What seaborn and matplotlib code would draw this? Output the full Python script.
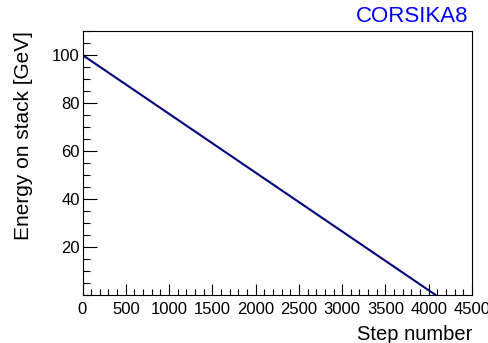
import matplotlib
matplotlib.use("Agg")
import matplotlib.pyplot as plt
import seaborn as sns
import pandas as pd
from matplotlib.ticker import MultipleLocator, FixedLocator

steps = [0, 4080]
energy = [100.0, 0.0]
title = "CORSIKA8"
xlabel = "Step number"
ylabel = "Energy on stack [GeV]"

sns.set_theme(style="ticks")
plt.rcParams['font.family'] = ['Liberation Sans', 'DejaVu Sans']
plt.rcParams['text.color'] = 'black'
plt.rcParams['axes.labelcolor'] = 'black'

df = pd.DataFrame({"step": steps, "energy": energy})

fig = plt.figure(figsize=(4.88, 3.43), dpi=100)
ax = fig.add_axes([82.5 / 488, 48 / 343, (472 - 82.5) / 488, (295 - 31) / 343])
sns.lineplot(data=df, x="step", y="energy", ax=ax, color="#000080", linewidth=1.5)

ax.set_xlim(0, 4500)
ax.set_ylim(0, 110)
ax.xaxis.set_major_locator(MultipleLocator(500))
ax.xaxis.set_minor_locator(MultipleLocator(100))
ax.yaxis.set_major_locator(FixedLocator([20, 40, 60, 80, 100]))
ax.yaxis.set_minor_locator(MultipleLocator(5))
ax.tick_params(axis="both", which="both", direction="in", top=False, right=False,
               labelsize=12, colors="black", labelcolor="black", width=0.8)
ax.tick_params(axis="y", which="major", length=10, pad=2)
ax.tick_params(axis="y", which="minor", length=5)
ax.tick_params(axis="x", which="major", length=8, pad=5)
ax.tick_params(axis="x", which="minor", length=4)
for s in ax.spines.values():
    s.set_color("black")
    s.set_linewidth(0.8)

ax.set_xlabel(xlabel, fontsize=14.5, ha="right", x=1.0, labelpad=6, color="black")
ax.set_ylabel(ylabel, fontsize=15, ha="right", y=1.0, labelpad=14, color="black")
fig.text(468 / 488, 1 - 6 / 343, title, color="#0000ff", fontsize=16,
         ha="right", va="top")

fig.savefig("out.png", dpi=100)
